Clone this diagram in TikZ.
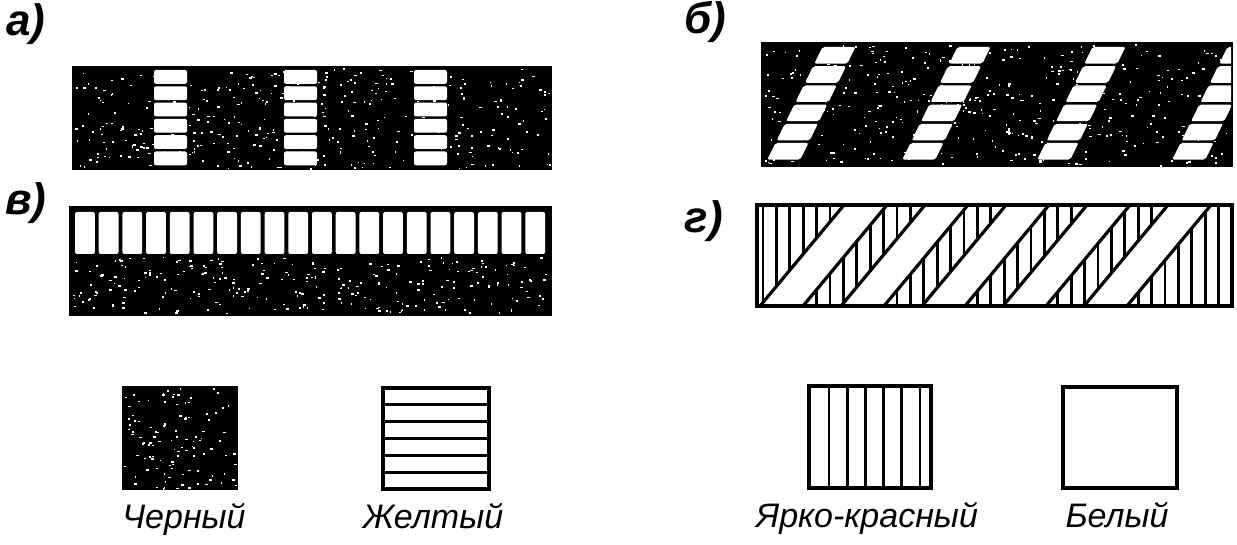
\documentclass[tikz,border=0pt]{standalone}
\usepackage{fontspec}
\setmainfont{Liberation Sans}
\newcommand\myspeckles[5]{%
  \foreach \i in {1,...,#5}{%
    \pgfmathsetmacro\sx{#1+rnd*(#3-#1)}%
    \pgfmathsetmacro\sy{#2+rnd*(#4-#2)}%
    \pgfmathsetmacro\sw{1+2*rnd}%
    \pgfmathsetmacro\sh{1+1.2*rnd}%
    \fill[white] (\sx,\sy) rectangle ++(\sw,\sh);
  }}
\begin{document}
\begin{tikzpicture}[x=0.5pt,y=-0.5pt,
  lbl/.style={font=\fontsize{17}{20}\selectfont\itshape, inner sep=0, anchor=base},
  plbl/.style={font=\fontsize{22}{24}\selectfont\bfseries\itshape, inner sep=0},
  cell/.style={fill=white, rounded corners=1pt},
  frame/.style={line width=2.3pt},
  hatch/.style={line width=1.35pt},
  diag/.style={line width=1.6pt}]
\useasboundingbox (0,0) rectangle (1237,545);
\pgfmathsetseed{7}

% ---------- labels of panels
\node[plbl] (la) at (26,24) {а)};
\node[plbl] (lb) at (705,22) {б)};
\node[plbl] (lv) at (26,203) {в)};
\node[plbl] (lg) at (704,221) {г)};

% ---------- panel a
\fill (72,66) rectangle (552,170);
\myspeckles{74}{68}{550}{168}{380}
\foreach \c in {154,284,414}{
  \foreach \j in {0,...,5}{
    \fill[cell] (\c,70+16.3*\j) rectangle ++(33,13.8);
  }}

% ---------- panel b
\fill (761,42) rectangle (1233,167);
\myspeckles{763}{44}{1231}{165}{380}
\begin{scope}
\clip (763,44) rectangle (1231,165);
\foreach \k in {0,...,3}{
  \foreach \j in {0,...,5}{
    \pgfmathsetmacro\ya{47+19.2*\j}
    \pgfmathsetmacro\yb{\ya+16.6}
    \pgfmathsetmacro\xa{822+135*\k-0.49*(\ya-48)}
    \pgfmathsetmacro\xb{822+135*\k-0.49*(\yb-48)}
    \fill[white, rounded corners=1pt] (\xa,\ya) -- (\xa+33,\ya) -- (\xb+33,\yb) -- (\xb,\yb) -- cycle;
  }}
\end{scope}

% ---------- panel v
\fill (69,206) rectangle (552,316);
\myspeckles{72}{257}{549}{313}{260}
\foreach \i in {0,...,19} \fill[cell] (75+23.7*\i,212) rectangle ++(19.8,42);

% ---------- panel g
\begin{scope}
\clip (757,205) rectangle (1232,306);
\foreach \i in {0,...,35} \draw[hatch] (763+13.4*\i,200) -- ++(0,110);
\foreach \k in {0,...,4}{
  \pgfmathsetmacro\xb{760+81*\k}
  \fill[white] (\xb,306) -- (\xb+43,306) -- (\xb+127,205) -- (\xb+84,205) -- cycle;
  \draw[diag] (\xb,306) -- (\xb+84,205);
  \draw[diag] (\xb+43,306) -- (\xb+127,205);
}
\end{scope}
\draw[frame] (757,205) rectangle (1232,306);

% ---------- legend
\fill (122,386) rectangle (238,490);
\myspeckles{124}{388}{236}{488}{110}
\draw[frame] (383,388) rectangle (489,489);
\foreach \k in {1,...,5} \draw[hatch] (383,388+101*\k/6) -- (489,388+101*\k/6);
\draw[frame] (809,386) rectangle (931,488);
\foreach \k in {0,...,5} \draw[hatch] (829+18.2*\k,386) -- (829+18.2*\k,488);
\draw[frame] (1063,387) rectangle (1177,488);

\node[lbl] (tblack) at (184,528) {Черный};
\node[lbl] (tyellow) at (433,528) {Желтый};
\node[lbl] (tred) at (867,527) {Ярко-красный};
\node[lbl] (twhite) at (1117,527) {Белый};
\end{tikzpicture}
\end{document}
